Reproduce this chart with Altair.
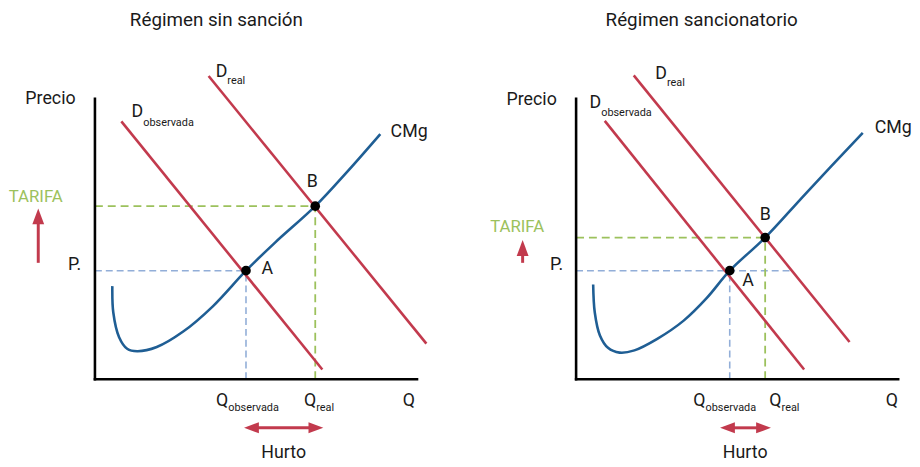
import altair as alt
import pandas as pd

# ---------------- data (diagram units: Q on x, P on y, both axes run 0..10) ----------------
titles = ["Régimen sin sanción", "Régimen sancionatorio"]

# marginal-cost curve (CMg)
cmg_left_q = [0.54, 0.57, 0.75, 1.00, 1.31, 1.92, 2.74, 3.66, 4.69, 5.60, 6.84, 7.85, 8.86]
cmg_left_p = [3.32, 2.38, 1.50, 1.09, 1.00, 1.15, 1.70, 2.60, 3.87, 4.88, 6.17, 7.42, 8.74]
cmg_right_q = [0.53, 0.58, 0.74, 0.99, 1.35, 1.81, 2.52, 3.34, 4.06, 4.77, 5.87, 7.13, 8.90]
cmg_right_p = [3.38, 2.38, 1.56, 1.12, 0.95, 1.03, 1.44, 2.09, 2.90, 3.87, 5.05, 6.62, 8.78]

# demand lines (end points)
dreal_left_q = [3.53, 10.29]
dreal_left_p = [10.81, 1.27]
dobs_left_q = [0.82, 7.06]
dobs_left_p = [9.19, 0.35]
dreal_right_q = [1.79, 8.49]
dreal_right_p = [10.83, 1.33]
dobs_right_q = [0.89, 7.08]
dobs_right_p = [9.21, 0.35]

# equilibrium points A and B (q, p)
point_a_left = [4.69, 3.87]
point_b_left = [6.84, 6.17]
point_a_right = [4.77, 3.87]
point_b_right = [5.87, 5.05]

# end of the horizontal price guide through A
blue_guide_end = [4.69, 6.67]

# "Hurto" double arrow span (q from, q to) and "TARIFA" arrow (q, p from, p tip)
hurto_left = [4.63, 7.09]
hurto_right = [4.47, 6.05]
tarifa_left = [-1.76, 4.15, 6.09]
tarifa_right = [-1.66, 4.15, 4.96]

# centred labels
lab_left_text = [titles[0], "Precio", "TARIFA", "A", "B", "Q", "Hurto"]
lab_left_q = [3.77, -1.38, -1.84, 5.35, 6.75, 9.75, 5.86]
lab_left_p = [12.80, 9.98, 6.49, 3.93, 7.02, -0.77, -2.64]
lab_right_text = [titles[1], "Precio", "TARIFA", "A", "B", "Q", "Hurto"]
lab_right_q = [3.90, -1.38, -1.83, 5.34, 5.87, 9.80, 5.25]
lab_right_p = [12.80, 9.96, 5.43, 3.50, 5.85, -0.77, -2.64]

# right-aligned main letters and left-aligned subscripts
main_text = ["D", "D", "Q", "Q", "P."]
main_left_q = [4.11, 1.50, 4.14, 6.87, -0.43]
main_left_p = [10.95, 9.54, -0.77, -0.77, 4.08]
main_right_q = [2.82, 0.78, 4.02, 6.38, -0.40]
main_right_p = [10.86, 9.83, -0.77, -0.77, 4.08]
sub_text = ["real", "observada", "observada", "real"]
sub_left_p = [10.63, 9.13, -1.02, -1.02]
sub_right_p = [10.57, 9.48, -1.02, -1.02]
cmg_label_left = [9.18, 8.80]
cmg_label_right = [9.27, 8.95]

# ---------------- style ----------------
FONT = "Roboto"
RED = "#c23a4d"
BLUE = "#1f5e94"
LBLUE = "#92aed8"
GREEN = "#9cc15c"
INK = "#1a1a1a"
PX_Q = 32.6   # pixels per Q unit
PX_P = 28.4   # pixels per P unit
Y_DOMAIN = [-2.746, 13.134]
W, H = 452, 451
TITLE_SIZE, MAIN_SIZE, SUB_SIZE = 19, 18, 11

UP = "M0,-1L0.75,1L-0.75,1Z"
LEFT = "M-1,0L1,-0.75L1,0.75Z"
RIGHT = "M1,0L-1,-0.75L-1,0.75Z"


def panel(cq, cp, drq, drp, doq, dop, a, b, blue_end, hurto, tarifa,
          lt, lq, lp, mq, mp, sp, cmg_lab, xdom):
    xs = alt.Scale(domain=xdom, nice=False, zero=False)
    ys = alt.Scale(domain=Y_DOMAIN, nice=False, zero=False)

    def enc(ch):
        return ch.encode(x=alt.X("q:Q", scale=xs, axis=None),
                         y=alt.Y("p:Q", scale=ys, axis=None))

    def seg_chart(rows, **mk):
        df = pd.DataFrame(rows, columns=["q", "p", "q2", "p2"])
        return alt.Chart(df).mark_rule(**mk).encode(
            x=alt.X("q:Q", scale=xs, axis=None), y=alt.Y("p:Q", scale=ys, axis=None),
            x2="q2:Q", y2="p2:Q")

    axes = seg_chart([(0, 0, 0, 10), (0, 0, 10, 0)], color="black", strokeWidth=2.6,
                     strokeCap="square")
    blue = seg_chart([(0, a[1], blue_end, a[1]), (a[0], 0, a[0], a[1])],
                     color=LBLUE, strokeWidth=1.6, strokeDash=[7, 4])
    green = seg_chart([(0, b[1], b[0], b[1]), (b[0], 0, b[0], b[1])],
                      color=GREEN, strokeWidth=1.8, strokeDash=[8, 5])

    dem = pd.DataFrame({"q": drq + doq, "p": drp + dop,
                        "s": ["real"] * len(drq) + ["obs"] * len(doq)})
    demand = enc(alt.Chart(dem).mark_line(color=RED, strokeWidth=2.6)).encode(detail="s:N")

    cmg = enc(alt.Chart(pd.DataFrame({"q": cq, "p": cp})).mark_line(
        color=BLUE, strokeWidth=2.6, interpolate="catmull-rom"))

    pts = enc(alt.Chart(pd.DataFrame({"q": [a[0], b[0]], "p": [a[1], b[1]]})).mark_circle(
        size=95, color="black", opacity=1))

    # arrows
    hh_p = 16 / PX_P
    hh_q = 15 / PX_Q
    t_shaft = seg_chart([(tarifa[0], tarifa[1], tarifa[0], tarifa[2] - hh_p * 0.9)],
                        color=RED, strokeWidth=3)
    t_head = enc(alt.Chart(pd.DataFrame({"q": [tarifa[0]], "p": [tarifa[2] - hh_p / 2]}))
                 .mark_point(shape=UP, size=256, filled=True, color=RED, opacity=1))
    h_shaft = seg_chart([(hurto[0] + hh_q * 0.8, -1.73, hurto[1] - hh_q * 0.8, -1.73)],
                        color=RED, strokeWidth=3)
    h_l = enc(alt.Chart(pd.DataFrame({"q": [hurto[0] + hh_q / 2], "p": [-1.73]}))
              .mark_point(shape=LEFT, size=225, filled=True, color=RED, opacity=1))
    h_r = enc(alt.Chart(pd.DataFrame({"q": [hurto[1] - hh_q / 2], "p": [-1.73]}))
              .mark_point(shape=RIGHT, size=225, filled=True, color=RED, opacity=1))

    # labels
    sizes = [TITLE_SIZE] + [MAIN_SIZE - 1 if s == "TARIFA" else MAIN_SIZE for s in lt[1:]]
    cdf = pd.DataFrame({"q": lq, "p": lp, "t": lt, "size": sizes,
                        "c": [GREEN if s == "TARIFA" else INK for s in lt]})
    centre = enc(alt.Chart(cdf).mark_text(font=FONT, align="center", baseline="middle")).encode(
        text="t:N", size=alt.Size("size:Q", scale=None), color=alt.Color("c:N", scale=None))
    mdf = pd.DataFrame({"q": mq, "p": mp, "t": main_text})
    mains = enc(alt.Chart(mdf).mark_text(font=FONT, align="right", baseline="middle",
                                         fontSize=MAIN_SIZE, color=INK)).encode(text="t:N")
    sdf = pd.DataFrame({"q": mq[:4], "p": sp, "t": sub_text})
    subs = enc(alt.Chart(sdf).mark_text(font=FONT, align="left", baseline="middle",
                                        fontSize=SUB_SIZE, color=INK)).encode(text="t:N")
    cl = enc(alt.Chart(pd.DataFrame({"q": [cmg_lab[0]], "p": [cmg_lab[1]], "t": ["CMg"]}))
             .mark_text(font=FONT, align="left", baseline="middle", fontSize=MAIN_SIZE,
                        color=INK)).encode(text="t:N")

    return alt.layer(blue, green, axes, demand, cmg, pts, t_shaft, t_head, h_shaft, h_l, h_r,
                     centre, mains, subs, cl).properties(width=W, height=H)


left = panel(cmg_left_q, cmg_left_p, dreal_left_q, dreal_left_p, dobs_left_q, dobs_left_p,
             point_a_left, point_b_left, blue_guide_end[0], hurto_left, tarifa_left,
             lab_left_text, lab_left_q, lab_left_p, main_left_q, main_left_p, sub_left_p,
             cmg_label_left, [-2.638, 11.227])
right = panel(cmg_right_q, cmg_right_p, dreal_right_q, dreal_right_p, dobs_right_q,
              dobs_right_p, point_a_right, point_b_right, blue_guide_end[1], hurto_right,
              tarifa_right, lab_right_text, lab_right_q, lab_right_p, main_right_q,
              main_right_p, sub_right_p, cmg_label_right, [-3.712, 10.153])

chart = alt.hconcat(left, right, spacing=0).properties(padding=0).configure_view(stroke=None)
chart.save("out.html", embed_options={"renderer": "svg", "actions": False})
